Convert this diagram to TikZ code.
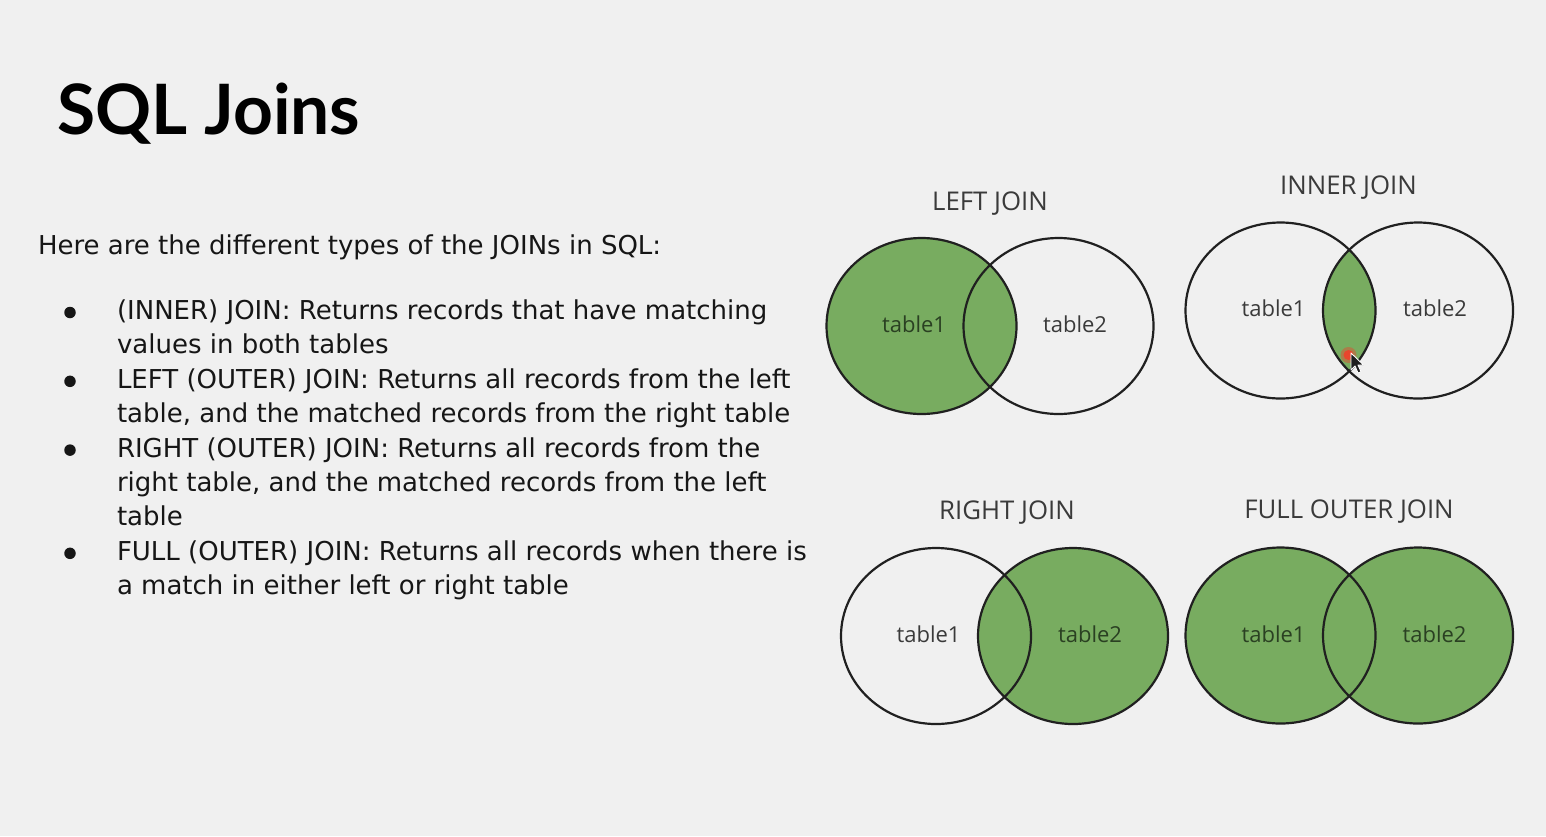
\documentclass[tikz,border=0pt]{standalone}
\usepackage{fontspec}
\setmainfont{DejaVu Sans}
\newfontfamily\titlefont{Lato}
\newfontfamily\venfont{Open Sans}
\usetikzlibrary{shapes.geometric}

\definecolor{slidebg}{RGB}{240,240,240}
\definecolor{joingreen}{RGB}{120,172,96}
\definecolor{ringline}{RGB}{32,32,32}
\definecolor{bodyink}{RGB}{22,22,22}
\definecolor{labelink}{RGB}{58,58,58}
\definecolor{labelongreen}{RGB}{42,64,34}
\definecolor{clickred}{RGB}{232,70,45}

\begin{document}
\begin{tikzpicture}[x=1pt,y=-1pt,
  every node/.style={inner sep=0pt, outer sep=0pt},
  heading/.style={font=\titlefont\bfseries\fontsize{69.5}{70}\selectfont, text=black, anchor=base west},
  bodyline/.style={font=\fontsize{26}{30}\selectfont, text=bodyink, anchor=base west},
  bulletdot/.style={circle, fill=bodyink, minimum size=11.5pt},
  settitle/.style={font=\venfont\fontsize{25.8}{28}\selectfont, text=labelink, anchor=base},
  setlabel/.style={font=\venfont\fontsize{22}{24}\selectfont, text=labelink, anchor=base},
  greenlabel/.style={setlabel, text=labelongreen},
  tableset/.style={ellipse, draw=ringline, line width=2.2pt, minimum width=190pt, minimum height=176pt},
  setfill/.style={fill=joingreen},
]
% slide background
\fill[slidebg] (0,0) rectangle (1546,836);
\useasboundingbox (0,0) rectangle (1546,836);

% title and intro
\node[heading] (title) at (57,134) {SQL Joins};
\node[bodyline] (intro) at (38,254.3) {Here are the different types of the JOINs in SQL:};

% bullet list
\node[bulletdot] (b1) at (70,312.5) {};
\node[bulletdot] (b2) at (70,381.3) {};
\node[bulletdot] (b3) at (70,450.1) {};
\node[bulletdot] (b4) at (70,553.3) {};
\node[bodyline] (l1) at (117,319.5) {(INNER) JOIN: Returns records that have matching};
\node[bodyline] (l2) at (117,353.9) {values in both tables};
\node[bodyline] (l3) at (117,388.3) {LEFT (OUTER) JOIN: Returns all records from the left};
\node[bodyline] (l4) at (117,422.7) {table, and the matched records from the right table};
\node[bodyline] (l5) at (117,457.1) {RIGHT (OUTER) JOIN: Returns all records from the};
\node[bodyline] (l6) at (117,491.5) {right table, and the matched records from the left};
\node[bodyline] (l7) at (117,525.9) {table};
\node[bodyline] (l8) at (117,560.3) {FULL (OUTER) JOIN: Returns all records when there is};
\node[bodyline] (l9) at (117,594.7) {a match in either left or right table};

% centres of the eight sets
\coordinate (L1) at (921.5,326);
\coordinate (L2) at (1058.5,326);
\coordinate (I1) at (1280.5,310.5);
\coordinate (I2) at (1418,310.5);
\coordinate (R1) at (936,636);
\coordinate (R2) at (1073,636);
\coordinate (F1) at (1280.5,635.5);
\coordinate (F2) at (1418,635.5);

% shaded regions
\fill[setfill] (L1) ellipse [x radius=95pt, y radius=88pt];
\fill[setfill] (R2) ellipse [x radius=95pt, y radius=88pt];
\fill[setfill] (F1) ellipse [x radius=95pt, y radius=88pt];
\fill[setfill] (F2) ellipse [x radius=95pt, y radius=88pt];
\begin{scope}
  \clip (I1) ellipse [x radius=95pt, y radius=88pt];
  \fill[setfill] (I2) ellipse [x radius=95pt, y radius=88pt];
\end{scope}

% set outlines
\node[tableset] (lj1) at (L1) {};
\node[tableset] (lj2) at (L2) {};
\node[tableset] (ij1) at (I1) {};
\node[tableset] (ij2) at (I2) {};
\node[tableset] (rj1) at (R1) {};
\node[tableset] (rj2) at (R2) {};
\node[tableset] (fj1) at (F1) {};
\node[tableset] (fj2) at (F2) {};

% diagram headings
\node[settitle] (ljt) at (990,210.7) {LEFT JOIN};
\node[settitle] (ijt) at (1348.5,194.3) {INNER JOIN};
\node[settitle] (rjt) at (1007,519.3) {RIGHT JOIN};
\node[settitle] (fjt) at (1349,518.3) {FULL OUTER JOIN};

% set labels
\node[greenlabel] (lj1t) at (914,332.7) {table1};
\node[setlabel]   (lj2t) at (1075,332.7) {table2};
\node[setlabel]   (ij1t) at (1273.5,316.7) {table1};
\node[setlabel]   (ij2t) at (1435,316.7) {table2};
\node[setlabel]   (rj1t) at (928.5,642.7) {table1};
\node[greenlabel] (rj2t) at (1090,642.7) {table2};
\node[greenlabel] (fj1t) at (1273.5,642.7) {table1};
\node[greenlabel] (fj2t) at (1434.5,642.7) {table2};

% click marker and pointer
\fill[clickred, opacity=0.45] (1348.5,355) circle [radius=8pt];
\fill[clickred] (1348.5,355) circle [radius=5pt];
\filldraw[fill=black!88, draw=white, line width=0.9pt, line join=round]
  (1351,353) -- ++(0,17) -- ++(4,-4) -- ++(3,7) -- ++(3,-1.2) -- ++(-3,-6.8) -- ++(5.5,0) -- cycle;
\end{tikzpicture}
\end{document}
